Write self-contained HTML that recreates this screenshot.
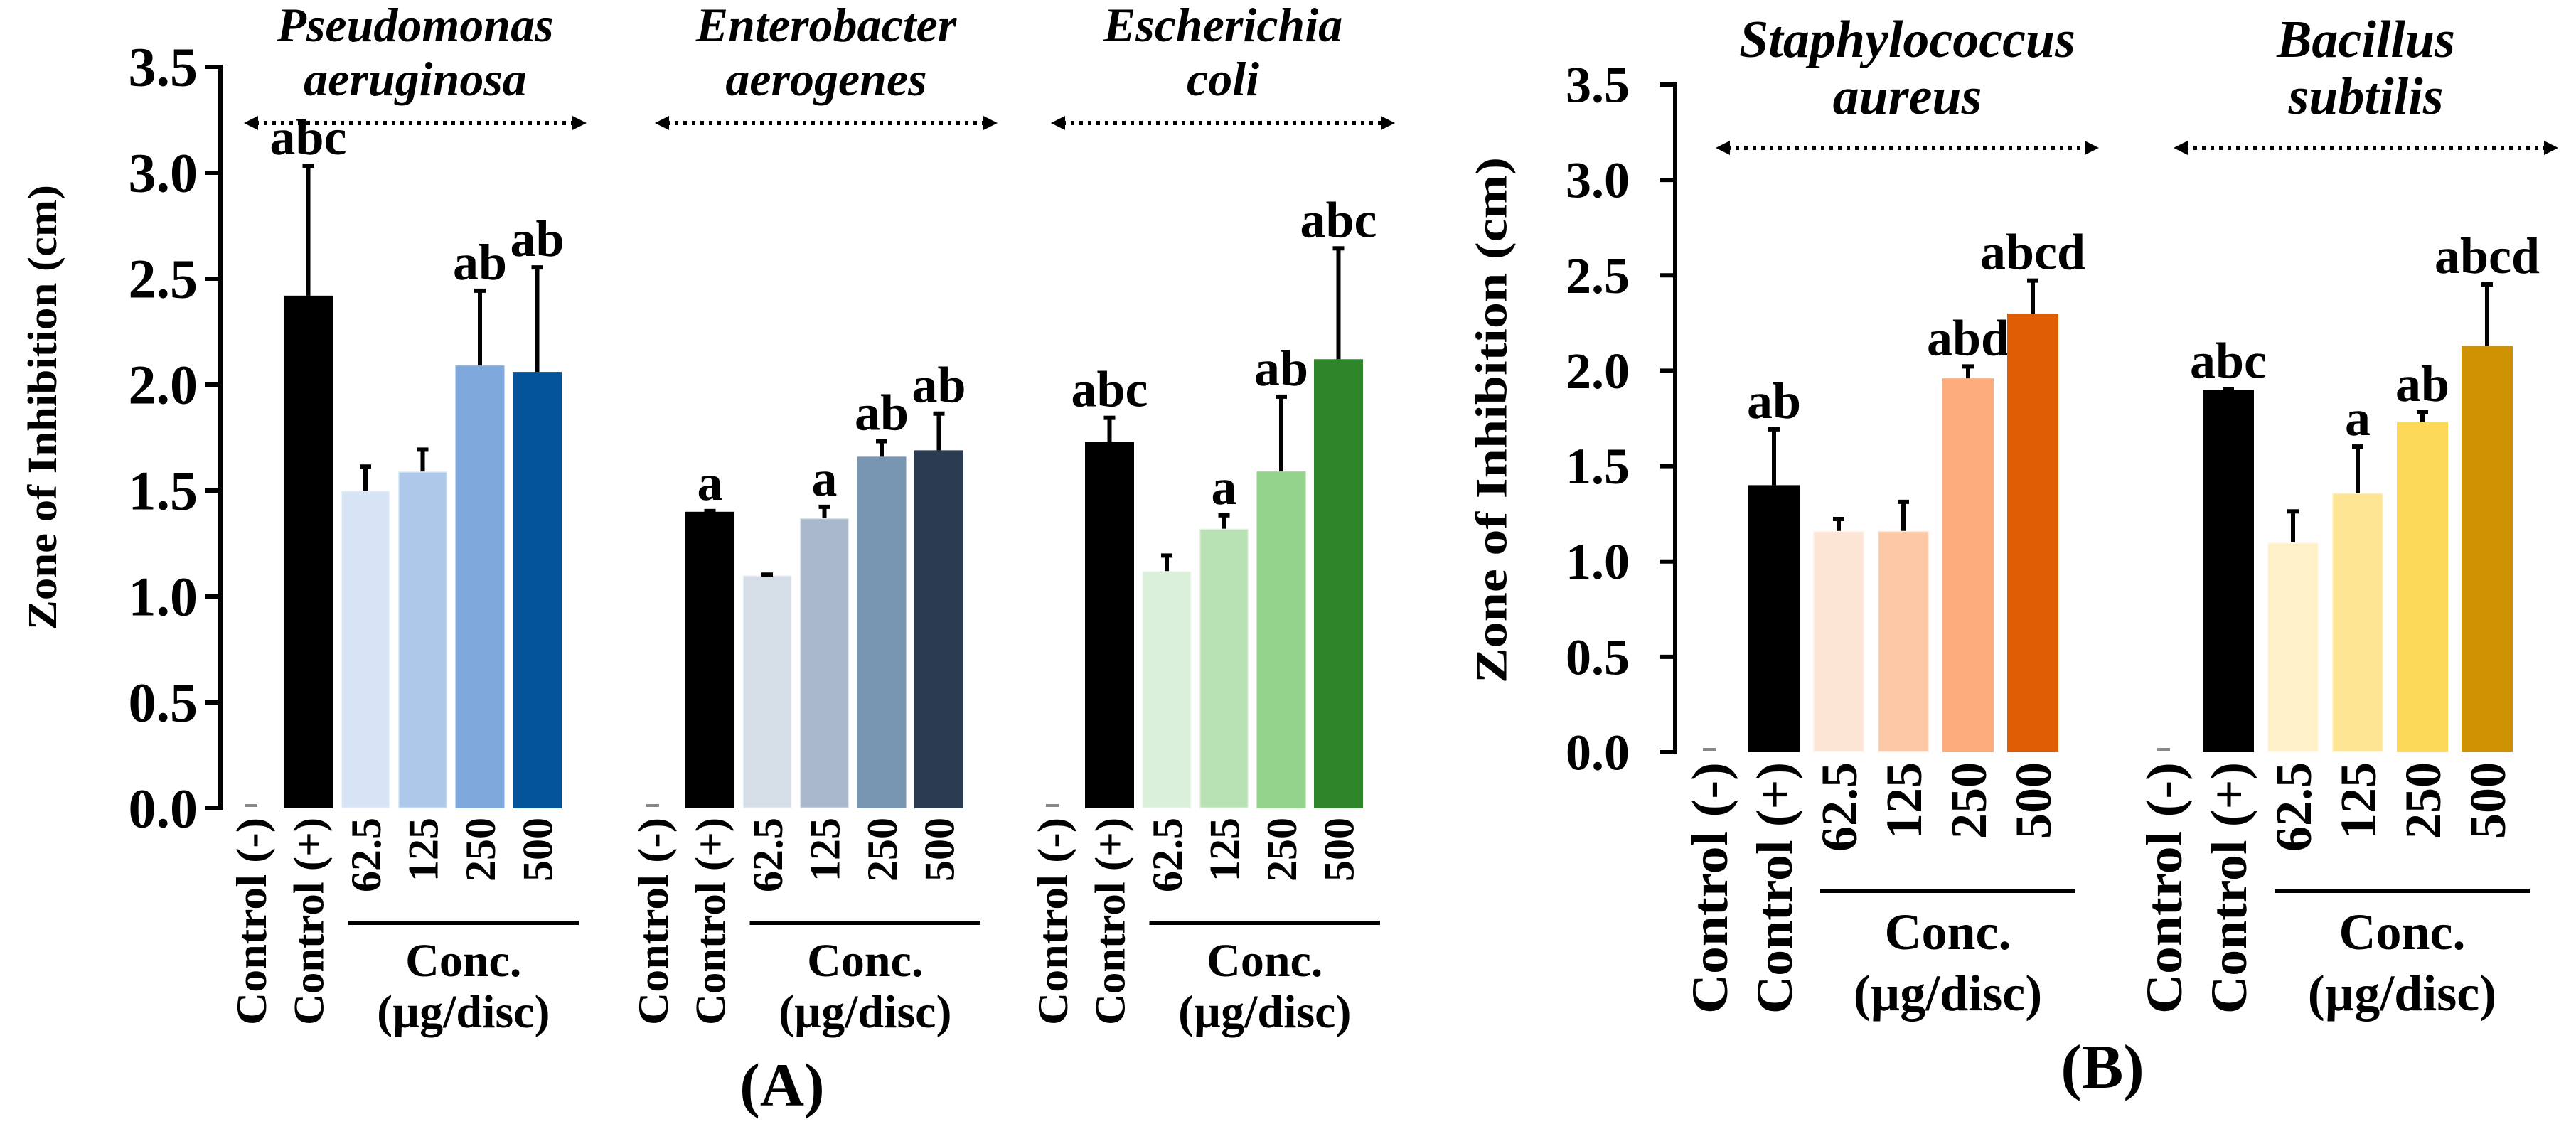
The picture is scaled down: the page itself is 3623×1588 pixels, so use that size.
<!DOCTYPE html>
<html><head><meta charset="utf-8">
<style>
html,body{margin:0;padding:0;background:#fff;}
svg{display:block;font-family:"Liberation Serif","Times New Roman","DejaVu Serif",serif;}
svg text{font-family:"Liberation Serif","Times New Roman","DejaVu Serif",serif;font-weight:bold;fill:#000;}
</style></head>
<body>
<svg id="chart" xmlns="http://www.w3.org/2000/svg" width="3623" height="1588" viewBox="0 0 3623 1588" font-family="Liberation Serif, serif">
</svg>
<script>
// ---- data ----
const species = ["Pseudomonas|aeruginosa","Enterobacter|aerogenes","Escherichia|coli","Staphylococcus|aureus","Bacillus|subtilis"];
const categories = ["Control (-)","Control (+)","62.5","125","250","500"];
const yTicks = [0.0,0.5,1.0,1.5,2.0,2.5,3.0,3.5];
const valsPseudo = [0, 2.42, 1.50, 1.59, 2.09, 2.06];
const errPseudo  = [0, 3.04, 1.62, 1.70, 2.45, 2.56];
const lblPseudo  = ["", "abc", "", "", "ab", "ab"];
const valsEntero = [0, 1.40, 1.10, 1.37, 1.66, 1.69];
const errEntero  = [0, 1.41, 1.11, 1.43, 1.74, 1.87];
const lblEntero  = ["", "a", "", "a", "ab", "ab"];
const valsEcoli  = [0, 1.73, 1.12, 1.32, 1.59, 2.12];
const errEcoli   = [0, 1.85, 1.20, 1.39, 1.95, 2.65];
const lblEcoli   = ["", "abc", "", "a", "ab", "abc"];
const valsStaph  = [0, 1.40, 1.16, 1.16, 1.96, 2.30];
const errStaph   = [0, 1.70, 1.23, 1.32, 2.03, 2.48];
const lblStaph   = ["", "ab", "", "", "abd", "abcd"];
const valsBacil  = [0, 1.90, 1.10, 1.36, 1.73, 2.13];
const errBacil   = [0, 1.91, 1.27, 1.61, 1.79, 2.46];
const lblBacil   = ["", "abc", "", "a", "ab", "abcd"];

// ---- layout ----
const NS = "http://www.w3.org/2000/svg";
const svg = document.getElementById('chart');
const FF = '"Liberation Serif","Times New Roman","DejaVu Serif",serif';
function el(tag, attrs, parent){const e=document.createElementNS(NS,tag);for(const k in attrs)e.setAttribute(k,attrs[k]);if(tag==='text'){e.style.fontFamily=FF;e.style.fontWeight='bold';}(parent||svg).appendChild(e);return e;}

const panels = [
  {id:'a', axisX:310, y0:1137, y35:94, tickFont:78, tickRight:278, titleX:58, titleCY:573, titleLen:626, titleFont:58,
   pitch:80.5, bw:69, catFont:60, ctlLen:292, catTop:1150, titleFontS:68, tb1:58, tb2:134, arrowY:173, annFont:72,
   underY:1298, concB1:1373, concB2:1445, concFont:66, letter:'(A)', letterX:1100, letterY:1555, letterFont:86},
  {id:'b', axisX:2356, y0:1058, y35:119, tickFont:72, tickRight:2292, titleX:2096, titleCY:591, titleLen:740, titleFont:62,
   pitch:91, bw:72, catFont:72, ctlLen:354, catTop:1072, titleFontS:74, tb1:80, tb2:160, arrowY:208, annFont:72,
   underY:1253, concB1:1335, concB2:1421, concFont:72, letter:'(B)', letterX:2957, letterY:1530, letterFont:88}
];
const groups = [
  {p:0, x0:399, vals:valsPseudo, err:errPseudo, lbl:lblPseudo, sp:species[0], ax:[-56,426], colors:['#fff','#000','#d6e4f5','#adc8e8','#7fa9dc','#03549a'], slug:'pseudomonas'},
  {p:0, x0:964, vals:valsEntero, err:errEntero, lbl:lblEntero, sp:species[1], ax:[-43,439], colors:['#fff','#000','#d5dde7','#a9b8cb','#7895b2','#2b3c52'], slug:'enterobacter'},
  {p:0, x0:1526, vals:valsEcoli, err:errEcoli, lbl:lblEcoli, sp:species[2], ax:[-48,436], colors:['#fff','#000','#daf0d8','#b8e2b3','#93d38b','#2f852a'], slug:'ecoli'},
  {p:1, x0:2459, vals:valsStaph, err:errStaph, lbl:lblStaph, sp:species[3], ax:[-46,493], colors:['#fff','#000','#fde5d5','#fcc8a5','#fbac7a','#e05c05'], slug:'staphylococcus'},
  {p:1, x0:3098, vals:valsBacil, err:errBacil, lbl:lblBacil, sp:species[4], ax:[-41,500], colors:['#fff','#000','#fff0c8','#fee593','#fdd95a','#cf9203'], slug:'bacillus'}
];

panels.forEach(P=>{
  P.y = v => P.y0 - v*(P.y0-P.y35)/3.5;
  const g = el('g',{});
  
  
  const ax = el('line',{x1:P.axisX,y1:P.y(3.5),x2:P.axisX,y2:P.y(0),stroke:'#000','stroke-width':6},g);
  
  
  yTicks.forEach(t=>{
    const yy=P.y(t);
    const tk=el('line',{x1:P.axisX-22,y1:yy,x2:P.axisX+3,y2:yy,stroke:'#000','stroke-width':6},g);
    
    
    const tl=el('text',{x:P.tickRight,y:yy+P.tickFont*0.34,'font-size':P.tickFont,'text-anchor':'end'},g);
    tl.textContent=t.toFixed(1);
    
    
  });
  const yt=el('text',{x:0,y:0,'font-size':P.titleFont,'text-anchor':'middle',textLength:P.titleLen,lengthAdjust:'spacingAndGlyphs',
    transform:`translate(${P.titleX+P.titleFont*0.36},${P.titleCY}) rotate(-90)`});
  yt.textContent='Zone of Inhibition (cm)';
  
  
  const pl=el('text',{x:P.letterX,y:P.letterY,'font-size':P.letterFont,'text-anchor':'middle'});
  pl.textContent=P.letter;
  
  
});

groups.forEach(G=>{
  const P=panels[G.p];
  const g=el('g',{});
  
  
  const bx = i => G.x0 + (i-1)*P.pitch;
  const cx = i => bx(i) + P.bw/2;
  const a1=G.x0+G.ax[0], a2=G.x0+G.ax[1], ay=P.arrowY;
  const ar=el('line',{x1:a1+16,y1:ay,x2:a2-16,y2:ay,stroke:'#000','stroke-width':6,'stroke-dasharray':'5 7'},g);
  
  
  const h1=el('polygon',{points:`${a1},${ay} ${a1+20},${ay-10} ${a1+20},${ay+10}`,fill:'#000'},g);
  
  
  const h2=el('polygon',{points:`${a2},${ay} ${a2-20},${ay-10} ${a2-20},${ay+10}`,fill:'#000'},g);
  
  
  const parts=G.sp.split('|'); const tcx=(a1+a2)/2;
  [P.tb1,P.tb2].forEach((by,k)=>{
    const t=el('text',{x:tcx,y:by,'font-size':P.titleFontS,'font-style':'italic','text-anchor':'middle'},g);
    t.textContent=parts[k];
    
    
  });
  G.vals.forEach((v,i)=>{
    if(i>0){
      const r=el('rect',{x:bx(i),y:P.y(v),width:P.bw,height:P.y(0)-P.y(v),fill:G.colors[i],stroke:i>=2&&i<=3?'rgba(255,255,255,0.6)':'none','stroke-width':3},g);
      
      
    }
    const e=G.err[i];
    if(i===0){
      const d=el('line',{x1:cx(i)-9,y1:P.y(0)-4,x2:cx(i)+9,y2:P.y(0)-4,stroke:'#888','stroke-width':4},g);
      
      
    } else if(e>v){
      const eb=el('line',{x1:cx(i),y1:P.y(v),x2:cx(i),y2:P.y(e),stroke:'#000','stroke-width':6},g);
      
      
      const cp=el('line',{x1:cx(i)-8,y1:P.y(e)+2,x2:cx(i)+8,y2:P.y(e)+2,stroke:'#000','stroke-width':6},g);
      
      
    }
    if(G.lbl[i]){
      const lt=el('text',{x:cx(i),y:P.y(Math.max(e,v))-14,'font-size':P.annFont,'text-anchor':'middle'},g);
      lt.textContent=G.lbl[i];
      
      
    }
    const attrs={x:0,y:0,'font-size':P.catFont,'text-anchor':'end',transform:`translate(${cx(i)+P.catFont*0.35},${P.catTop}) rotate(-90)`};
    if(i<2){attrs.textLength=P.ctlLen;attrs.lengthAdjust='spacingAndGlyphs';}
    const cl=el('text',attrs,g);
    cl.textContent=categories[i];
    
    
  });
  const u1=bx(2)+10, u2=bx(5)+P.bw+24;
  const ul=el('line',{x1:u1,y1:P.underY,x2:u2,y2:P.underY,stroke:'#000','stroke-width':6},g);
  
  
  const cc=(u1+u2)/2;
  const c1=el('text',{x:cc,y:P.concB1,'font-size':P.concFont,'text-anchor':'middle'},g);
  c1.textContent='Conc.';
  
  
  const c2=el('text',{x:cc,y:P.concB2,'font-size':P.concFont,'text-anchor':'middle'},g);
  c2.textContent='(µg/disc)';
  
  
});
</script>
</body></html>
